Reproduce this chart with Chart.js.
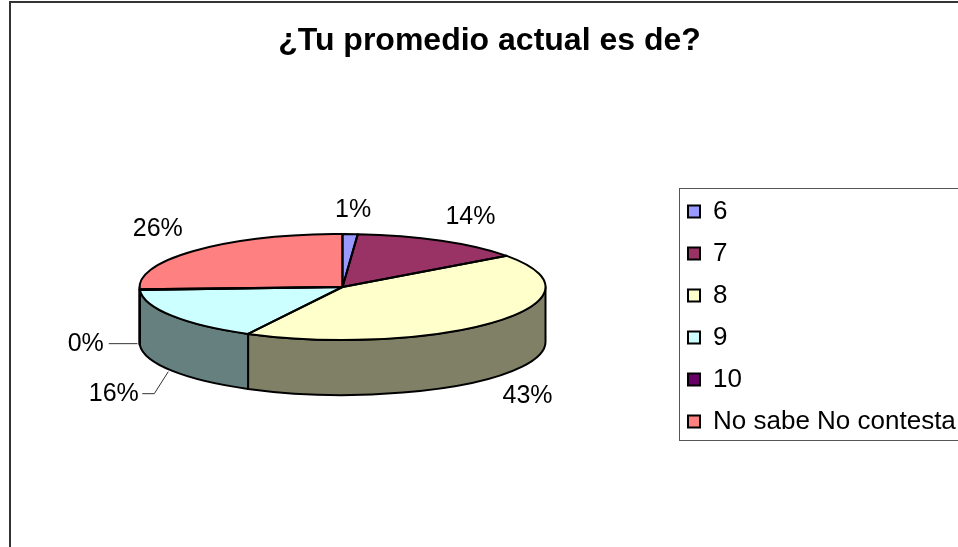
<!DOCTYPE html>
<html>
<head>
<meta charset="utf-8">
<style>html,body{margin:0;padding:0;background:#fff;overflow:hidden}canvas{display:block}</style>
<script src="https://cdn.jsdelivr.net/npm/chart.js@4"></script>
</head>
<body>
<canvas id="c" width="958" height="547"></canvas>
<script>
const categories = ['6', '7', '8', '9', '10', 'No sabe No contesta'];
const seriesValues = [1.2, 13.8, 42.7, 16.4, 0.2, 25.7];
const titleText = '¿Tu promedio actual es de?';
const sliceColors = ['#9999FF', '#993366', '#FFFFCC', '#CCFFFF', '#660066', '#FF8080'];
const labelOffsets = [[3, -24], [29, -24], [31.5, 74], [-58, 78], [-54, 54], [-38, -21]];

const FONT = '"Liberation Sans", Arial, sans-serif';
const TILT = 53 / 203, DEPTH = 55;

function shade(hex) {
  const n = parseInt(hex.slice(1), 16);
  return 'rgb(' + [(n >> 16) & 255, (n >> 8) & 255, n & 255].map(v => Math.round(v / 2)).join(',') + ')';
}
function tiltTransform(ctx, el) {
  ctx.translate(el.x, el.y);
  ctx.scale(1, TILT);
  ctx.translate(-el.x, -el.y);
}

const pie3d = {
  id: 'pie3d',
  beforeDraw(chart) {
    const ctx = chart.ctx;
    ctx.save();
    ctx.fillStyle = '#fff';
    ctx.fillRect(0, 0, chart.width, chart.height);
    ctx.strokeStyle = '#333';
    ctx.lineWidth = 2;
    ctx.beginPath();
    ctx.moveTo(10, chart.height);
    ctx.lineTo(10, 2);
    ctx.lineTo(chart.width, 2);
    ctx.stroke();
    ctx.strokeStyle = '#555';
    ctx.lineWidth = 1;
    ctx.strokeRect(679.5, 188.5, 300, 252);
    ctx.restore();
  },
  afterLayout(chart) {
    const t = chart.titleBlock;
    t.left = 0; t.right = 979; t.top = 22; t.bottom = 60;
    const l = chart.legend;
    l.left = 672; l.right = 958; l.width = 286; l.top = 182.5; l.bottom = 520; l.height = 338;
  },
  beforeDatasetsDraw(chart) {
    const ctx = chart.ctx;
    const arcs = chart.getDatasetMeta(0).data;
    ctx.save();
    ctx.strokeStyle = '#000';
    ctx.lineWidth = 2;
    ctx.lineJoin = 'round';
    arcs.forEach((el, i) => {
      const a = Math.max(el.startAngle, 0), b = Math.min(el.endAngle, Math.PI);
      if (b <= a) return;
      const r = el.outerRadius, ry = r * TILT;
      ctx.beginPath();
      ctx.ellipse(el.x, el.y, r, ry, 0, a, b);
      ctx.ellipse(el.x, el.y + DEPTH, r, ry, 0, b, a, true);
      ctx.closePath();
      ctx.fillStyle = shade(sliceColors[i]);
      ctx.fill();
      ctx.stroke();
    });
    ctx.restore();
    ctx.save();
    tiltTransform(ctx, arcs[0]);
  },
  afterDatasetsDraw(chart) {
    const ctx = chart.ctx;
    ctx.restore();
    const arcs = chart.getDatasetMeta(0).data;
    const total = seriesValues.reduce((s, v) => s + v, 0);
    ctx.save();
    ctx.strokeStyle = '#000';
    ctx.lineWidth = 2;
    ctx.lineJoin = 'round';
    arcs.forEach(el => {
      ctx.save();
      tiltTransform(ctx, el);
      ctx.beginPath();
      ctx.moveTo(el.x, el.y);
      ctx.arc(el.x, el.y, el.outerRadius, el.startAngle, el.endAngle);
      ctx.closePath();
      ctx.restore();
      ctx.stroke();
    });
    ctx.font = '25px ' + FONT;
    ctx.fillStyle = '#000';
    ctx.textAlign = 'center';
    ctx.textBaseline = 'middle';
    const centers = arcs.map((el, i) => {
      const mid = (el.startAngle + el.endAngle) / 2;
      const x = el.x + el.outerRadius * Math.cos(mid) + labelOffsets[i][0];
      const y = el.y + el.outerRadius * TILT * Math.sin(mid) + labelOffsets[i][1];
      ctx.fillText(Math.round(seriesValues[i] / total * 100) + '%', x, y);
      return [x, y];
    });
    ctx.strokeStyle = '#333';
    ctx.lineWidth = 1;
    ctx.beginPath();
    const z = centers[4];
    ctx.moveTo(z[0] + 23, z[1]);
    ctx.lineTo(arcs[4].x - arcs[4].outerRadius - 2, z[1]);
    const s = centers[3];
    ctx.moveTo(s[0] + 28.5, s[1]);
    ctx.lineTo(s[0] + 40.5, s[1]);
    ctx.lineTo(s[0] + 54.5, s[1] - 22);
    ctx.stroke();
    ctx.restore();
  }
};

new Chart(document.getElementById('c'), {
  type: 'pie',
  data: {
    labels: categories,
    datasets: [{ data: seriesValues, backgroundColor: sliceColors, borderWidth: 0 }]
  },
  options: {
    responsive: false,
    animation: false,
    layout: { padding: { left: 139, right: 412, top: 45.6, bottom: 57 } },
    plugins: {
      tooltip: { enabled: false },
      title: {
        display: true,
        text: titleText,
        color: '#000',
        padding: 0,
        font: { family: FONT, size: 32, weight: 'bold' }
      },
      legend: {
        display: true,
        position: 'chartArea',
        align: 'start',
        labels: {
          color: '#000',
          boxWidth: 12,
          boxHeight: 12,
          padding: 16,
          font: { family: FONT, size: 26 },
          generateLabels: () => categories.map((text, i) => ({
            text, index: i, fillStyle: sliceColors[i], strokeStyle: '#000', lineWidth: 2, hidden: false
          }))
        }
      }
    }
  },
  plugins: [pie3d]
});
</script>
</body>
</html>
